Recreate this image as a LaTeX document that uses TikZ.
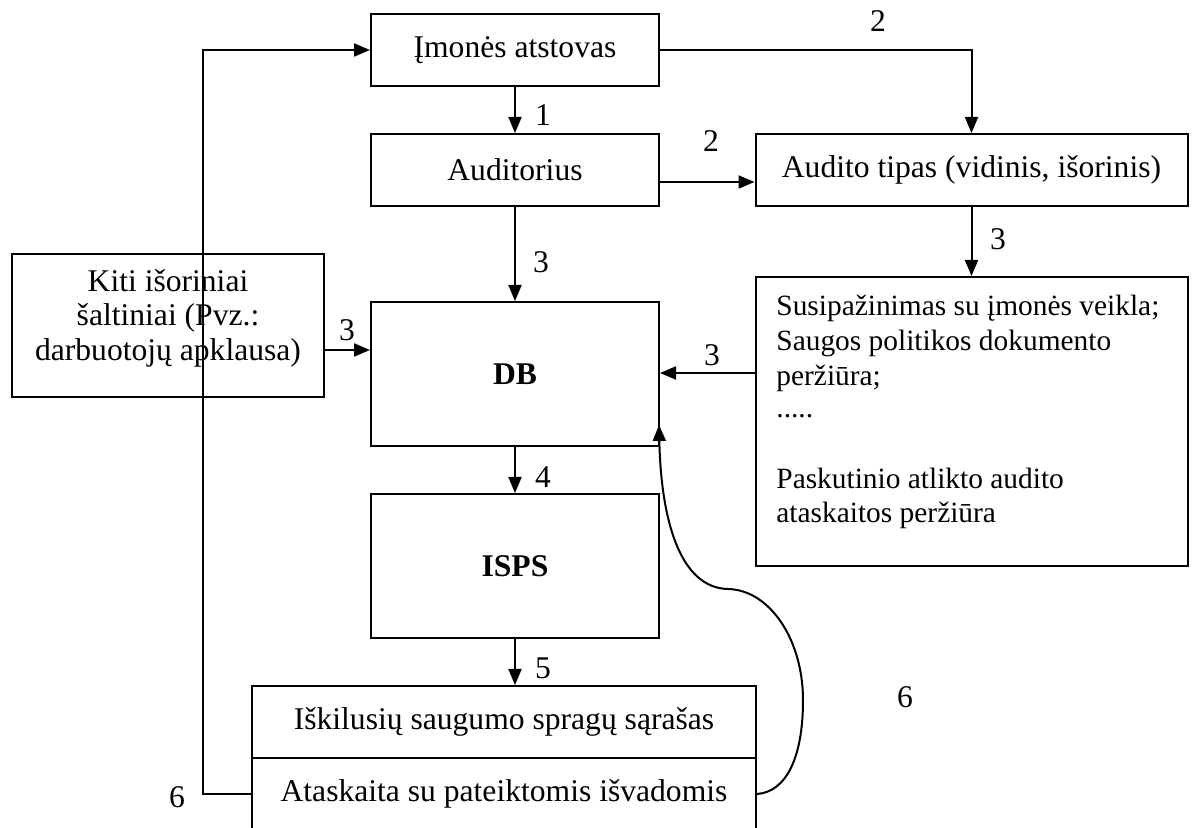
\documentclass[tikz,border=0pt]{standalone}
\usepackage{fontspec}
\setmainfont{Liberation Serif}
\usetikzlibrary{arrows.meta}
\begin{document}
\begin{tikzpicture}[x=0.5pt,y=-0.5pt,
  every node/.style={font=\fontsize{15.8}{17.2}\selectfont},
  box/.style={draw,line width=1pt,inner sep=0pt,align=center},
  conn/.style={line width=1pt,-{Triangle[length=8pt,width=6.5pt]}},
  lbl/.style={inner sep=0pt},
  txt/.style={inner sep=0pt,anchor=base west,font=\fontsize{14.7}{17.2}\selectfont}]
\useasboundingbox (0,0) rectangle (1196,828);
\clip (0,0) rectangle (1196,828);
% boxes
\node[box,minimum width=144pt,minimum height=36pt] (imon) at (515,50) {Įmonės atstovas};
\node[box,minimum width=144pt,minimum height=36pt] (aud) at (515,170) {Auditorius};
\node[box,minimum width=216pt,minimum height=36pt] (tip) at (971.5,170) {Audito tipas (vidinis, išorinis)};
\node[box,minimum width=216pt,minimum height=144.5pt] (sus) at (971.5,421.5) {};
\node[box,minimum width=156pt,minimum height=71.5pt] (kiti) at (168,325.5) {};
\node[inner sep=0pt,align=center] (kititxt) at (168,318) {Kiti išoriniai\\šaltiniai (Pvz.:\\darbuotojų apklausa)};
\node[box,minimum width=144pt,minimum height=72pt] (db) at (515,374) {\textbf{DB}};
\node[box,minimum width=144pt,minimum height=72pt] (isps) at (515,566) {\textbf{ISPS}};
\node[box,minimum width=252pt,minimum height=36pt] (isk) at (504,722) {Iškilusių saugumo spragų sąrašas};
\node[box,minimum width=252pt,minimum height=36pt] (ata) at (504,794) {Ataskaita su pateiktomis išvadomis};
% text of the right box
\node[txt] (s1) at (776,316) {Susipažinimas su įmonės veikla;};
\node[txt] (s2) at (776,351) {Saugos politikos dokumento};
\node[txt] (s3) at (776,386) {peržiūra;};
\node[txt] (s4) at (776,418) {.....};
\node[txt] (s5) at (776,489) {Paskutinio atlikto audito};
\node[txt] (s6) at (776,523) {ataskaitos peržiūra};
% coordinates
\coordinate (audout) at (659,182);
\coordinate (corner2) at (971.5,50);
\coordinate (kitiout) at (324,350);
\coordinate (susout) at (755,373);
\coordinate (leftbot) at (203,794);
\coordinate (lefttop) at (203,50);
\coordinate (dbin) at (659,425);
% connectors
\draw[conn] (imon.south) -- (aud.north);
\draw[conn] (imon.east) -- (corner2) -- (tip.north);
\draw[conn] (audout) -- (audout -| tip.west);
\draw[conn] (tip.south) -- (sus.north);
\draw[conn] (aud.south) -- (db.north);
\draw[conn] (kitiout) -- (kitiout -| db.west);
\draw[conn] (susout) -- (susout -| db.east);
\draw[conn] (db.south) -- (isps.north);
\draw[conn] (isps.south) -- (isps.south |- isk.north);
\draw[conn] (ata.west) -- (leftbot) -- (lefttop) -- (imon.west);
\draw[conn] (ata.east) .. controls (785,792) and (803,760) .. (803,700)
  .. controls (803,640) and (770,590) .. (728,589)
  .. controls (680,588) and (661,520) .. (dbin);
% labels
\node[lbl] (l1) at (543,115) {1};
\node[lbl] (l2a) at (878,21) {2};
\node[lbl] (l2b) at (711,141) {2};
\node[lbl] (l3a) at (998,239) {3};
\node[lbl] (l3b) at (541,262) {3};
\node[lbl] (l3c) at (347,330) {3};
\node[lbl] (l3d) at (712,355) {3};
\node[lbl] (l4) at (543,477) {4};
\node[lbl] (l5) at (543,668) {5};
\node[lbl] (l6a) at (177,797) {6};
\node[lbl] (l6b) at (905,697) {6};
\end{tikzpicture}
\end{document}
